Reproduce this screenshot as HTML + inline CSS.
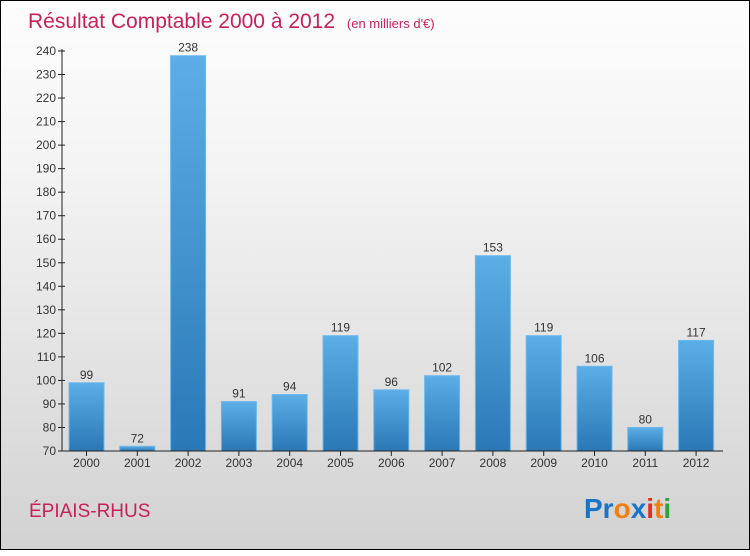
<!DOCTYPE html>
<html><head><meta charset="utf-8"><style>
body{margin:0;width:750px;height:550px;overflow:hidden}
#c{position:absolute;left:0;top:0;width:748px;height:548px;border:1px solid #000;background:linear-gradient(#fdfdfd,#f4f4f4 30%,#d2d2d2);font-family:"Liberation Sans",sans-serif}
</style></head><body>
<div id="c">
<svg width="750" height="550">
<defs><linearGradient id="g" x1="0" y1="0" x2="0" y2="1"><stop offset="0" stop-color="#5caee6"/><stop offset="1" stop-color="#2a78b6"/></linearGradient></defs>
<text x="27" y="27" font-size="21" fill="#c8205a">Résultat Comptable 2000 à 2012 <tspan font-size="13" dx="6">(en milliers d'€)</tspan></text>
<g id="plot"></g>
<text x="28" y="516" font-size="19" fill="#c8205a">ÉPIAIS-RHUS</text>
<text x="583" y="517" font-size="28" font-weight="bold"><tspan fill="#1a74c8">Pr</tspan><tspan fill="#f08010">o</tspan><tspan fill="#1a74c8">x</tspan><tspan fill="#e03020">i</tspan><tspan fill="#f08010">t</tspan><tspan fill="#30a040">i</tspan></text>
</svg></div>
<script>
const categories=["2000","2001","2002","2003","2004","2005","2006","2007","2008","2009","2010","2011","2012"];
const values=[99,72,238,91,94,119,96,102,153,119,106,80,117];
const yTicks=[70,80,90,100,110,120,130,140,150,160,170,180,190,200,210,220,230,240];
const NS="http://www.w3.org/2000/svg",g=document.getElementById('plot');
const y=v=>450-(v-70)*400/170, x=i=>85.5+i*50.8;
function mk(t,a,txt){const e=document.createElementNS(NS,t);for(const k in a)e.setAttribute(k,a[k]);if(txt!=null)e.textContent=txt;g.appendChild(e);return e;}
yTicks.forEach(v=>{mk('line',{x1:57,x2:64,y1:y(v),y2:y(v),stroke:'#222'});
const t=mk('text',{x:55,y:y(v)+4,'font-size':12,fill:'#333','text-anchor':'end'},v);

});
values.forEach((v,i)=>{const r=mk('rect',{x:x(i)-17.5,y:y(v),width:35,height:450-y(v),fill:'url(#g)',stroke:'#6cb8ec','stroke-width':1});


const l=mk('text',{x:x(i),y:y(v)-4,'font-size':12,fill:'#333','text-anchor':'middle'},v);


mk('line',{x1:x(i),x2:x(i),y1:450,y2:455,stroke:'#222'});
const c=mk('text',{x:x(i),y:466,'font-size':12,fill:'#333','text-anchor':'middle'},categories[i]);

});
const ya=mk('line',{x1:61,x2:61,y1:48,y2:450,stroke:'#222'});


const xa=mk('line',{x1:61,x2:722,y1:450,y2:450,stroke:'#222'});


</script></body></html>
